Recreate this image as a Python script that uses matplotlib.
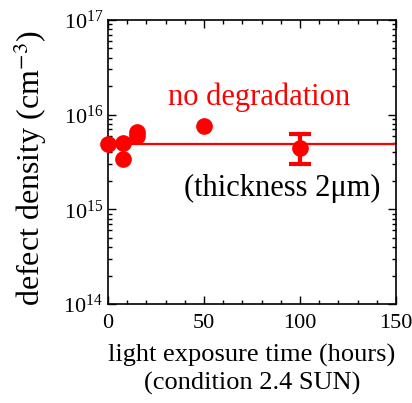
import matplotlib
matplotlib.use('Agg')
import matplotlib.pyplot as plt
from matplotlib.ticker import LogLocator, MultipleLocator, NullFormatter

plt.rcParams['font.family'] = ['Liberation Serif', 'DejaVu Serif']
plt.rcParams['mathtext.fontset'] = 'stix'

# light exposure time (hours) and defect density (cm^-3)
hours = [0, 8, 8, 15, 15, 50]
density = [4.9e15, 5.0e15, 3.4e15, 6.6e15, 6.0e15, 7.5e15]

# point with error bar
err_hour = [100]
err_density = [4.4e15]
err_low = [3.0e15]
err_high = [6.2e15]

# fit line (no degradation)
fit_hours = [0, 150]
fit_density = [4.9e15, 4.9e15]

red = '#ff0000'

fig = plt.figure(figsize=(4.12, 4.03), dpi=100)
ax = fig.add_axes([108 / 412, 1 - 304 / 403, 288 / 412, 284 / 403])

ax.plot(fit_hours, fit_density, color=red, lw=1.6, zorder=2)
ax.plot(hours, density, 'o', color=red, ms=11, zorder=3, clip_on=False)
ax.errorbar(err_hour, err_density,
            yerr=[[err_density[0] - err_low[0]], [err_high[0] - err_density[0]]],
            fmt='o', color=red, ms=11, elinewidth=3, capsize=8, capthick=3, zorder=3)

ax.set_yscale('log')
ax.set_xlim(0, 150)
ax.set_ylim(1e14, 1e17)
ax.xaxis.set_major_locator(MultipleLocator(50))
ax.xaxis.set_minor_locator(MultipleLocator(10))
ax.yaxis.set_major_locator(LogLocator(base=10, numticks=10))
ax.yaxis.set_minor_locator(LogLocator(base=10, subs=range(2, 10), numticks=20))
ax.yaxis.set_minor_formatter(NullFormatter())
ax.tick_params(which='both', direction='in', top=True, right=True, labelsize=16, width=1)
ax.tick_params(which='major', length=6)
ax.tick_params(which='minor', length=3)
ax.tick_params(axis='x', pad=7)
for s in ax.spines.values():
    s.set_linewidth(1.2)

ax.set_xlabel('light exposure time (hours)\n(condition 2.4 SUN)', fontsize=19,
              linespacing=1.3, labelpad=8)
ax.set_ylabel('defect density (cm$^{-3}$)', fontsize=23, labelpad=0)
ax.yaxis.set_label_coords(-0.205, 0.48)

ax.text(78.6, 1.25e16, 'no degradation', color=red, fontsize=22, ha='center', va='baseline')
ax.text(90.6, 1.66e15, '(thickness 2\u03bcm)', color='black', fontsize=22, ha='center', va='center')

fig.savefig('out.png', dpi=100)
